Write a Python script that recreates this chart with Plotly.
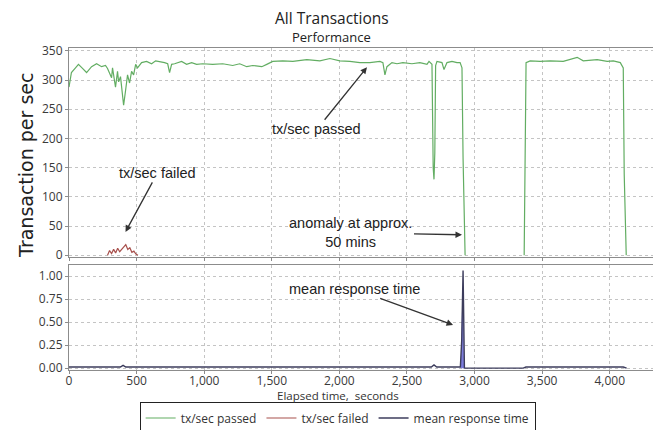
import plotly.graph_objects as go

# ---- data ----
passed_x = [0, 18, 48, 70, 100, 130, 167, 204, 241, 270, 285, 300, 315, 322, 344, 359, 367, 381,
            404, 419, 433, 448, 463, 478, 493, 507, 537, 574, 611, 641, 670, 707, 730, 744, 759,
            781, 833, 870, 907, 944, 989, 1063, 1137, 1211, 1263, 1315, 1359, 1426, 1463, 1507,
            1581, 1656, 1759, 1856, 1930, 2004, 2078, 2152, 2226, 2300, 2322, 2337, 2352, 2389,
            2426, 2470, 2537, 2596, 2648, 2663, 2685, 2690, 2694, 2700, 2706, 2712, 2722, 2759,
            2774, 2796, 2833, 2870, 2893, 2907, 2915, 2930, 3100, 3367, 3381, 3411, 3485,
            3559, 3656, 3759, 3804, 3907, 3981, 4026, 4078, 4100, 4107, 4122]
passed_y = [288, 313, 321, 327, 320, 313, 323, 328, 323, 325, 320, 313, 304, 321, 288, 315, 297, 306,
            257, 283, 309, 295, 315, 309, 327, 321, 330, 332, 328, 333, 332, 330, 328, 313, 327,
            328, 332, 327, 330, 327, 328, 327, 328, 325, 328, 323, 325, 323, 327, 332,
            333, 332, 335, 333, 337, 333, 332, 330, 330, 332, 330, 309, 323, 330,
            328, 330, 328, 330, 327, 332, 327, 180, 150, 130, 175, 325, 332, 330,
            318, 330, 332, 330, 330, 321, 167, 0, None, 0, 330, 333, 332,
            333, 332, 339, 333, 335, 332, 333, 330, 321, 139, 0]

failed_x = [285, 300, 315, 330, 345, 360, 375, 390, 405, 420, 435, 450, 465, 480, 495, 510]
failed_y = [0, 8, 3, 10, 4, 12, 6, 10, 14, 18, 10, 13, 5, 7, 2, 0]

resp_x = [0, 200, 380, 400, 420, 1000, 2000, 2680, 2700, 2720, 2895, 2905, 2915, 2925,
          3360, 3380, 4100, 4125]
resp_y = [0.012, 0.012, 0.012, 0.03, 0.012, 0.012, 0.012, 0.012, 0.035, 0.012, 0.012, 0.3,
          1.06, 0.0, 0.0, 0.012, 0.012, 0.0]

band_x = [2898, 2902, 2906, 2910, 2918, 2922]
band_y = [0, 0.25, 0.25, 0.81, 0.81, 0]

x_ticks = [0, 500, 1000, 1500, 2000, 2500, 3000, 3500, 4000]
top_ticks = [0, 50, 100, 150, 200, 250, 300, 350]
bottom_ticks = [0, 0.25, 0.5, 0.75, 1.0]

GREEN = "#62ad62"
RED = "#a8504c"
NAVY = "#3c3c5c"
FONT = "Open Sans"
ARIAL = "Liberation Sans"

fig = go.Figure()
fig.add_trace(go.Scatter(x=passed_x, y=passed_y, mode="lines", name="tx/sec passed",
                         line=dict(color=GREEN, width=1.2), xaxis="x", yaxis="y",
                         connectgaps=False))
fig.add_trace(go.Scatter(x=failed_x, y=failed_y, mode="lines", name="tx/sec failed",
                         line=dict(color=RED, width=1.2), xaxis="x", yaxis="y"))
fig.add_trace(go.Scatter(x=band_x, y=band_y, mode="lines", fill="tozeroy", showlegend=False,
                         fillcolor="rgba(100,100,215,0.85)", line=dict(width=0),
                         xaxis="x2", yaxis="y2", hoverinfo="skip"))
fig.add_trace(go.Scatter(x=resp_x, y=resp_y, mode="lines", name="mean response time",
                         line=dict(color=NAVY, width=1.4), xaxis="x2", yaxis="y2"))

axis_common = dict(showline=True, linecolor="#8c8c8c", linewidth=1, mirror=True,
                   showgrid=True, gridcolor="#c4c4c4", griddash="dot", gridwidth=1,
                   zeroline=False, ticks="outside", ticklen=3, tickcolor="#8c8c8c",
                   tickfont=dict(family=FONT, size=12, color="#3a3a3a"))

# the page body keeps its default 8px margin, so the figure is 8px smaller
fig.update_layout(
    width=653, height=422,
    margin=dict(l=61, r=8, t=40, b=60, autoexpand=False),
    paper_bgcolor="white", plot_bgcolor="white",
    xaxis=dict(domain=[0, 1], anchor="y", range=[0, 4320], tickvals=x_ticks,
               showticklabels=False, **axis_common),
    yaxis=dict(domain=[0.351, 1], anchor="x", range=[-3, 355], tickvals=top_ticks,
               **axis_common),
    xaxis2=dict(domain=[0, 1], anchor="y2", range=[0, 4320], tickvals=x_ticks,
                tickformat=",", ticklabelstandoff=-3, **axis_common),
    yaxis2=dict(domain=[0, 0.326], anchor="x2", range=[-0.02, 1.12], tickvals=bottom_ticks,
                tickformat=".2f", **axis_common),
    showlegend=True,
    legend=dict(orientation="h", x=0.46, xanchor="center", y=-0.149, yanchor="middle",
                bordercolor="#222222", borderwidth=1, bgcolor="white",
                font=dict(family=FONT, size=12, color="#333333"),
                itemwidth=30, tracegroupgap=0),
)

annotations = [
    dict(text="All Transactions", x=0.4496, y=1.093, xref="paper", yref="paper",
         showarrow=False, font=dict(family=FONT, size=15.5, color="#222222"),
         xanchor="center", yanchor="middle"),
    dict(text="Performance", x=0.4496, y=1.034, xref="paper", yref="paper",
         showarrow=False, font=dict(family=FONT, size=13, color="#222222"),
         xanchor="center", yanchor="middle"),
    dict(text="Transaction per sec", x=-0.0735, y=0.634, xref="paper", yref="paper",
         showarrow=False, textangle=-90, font=dict(family="DejaVu Sans", size=19, color="#222222"),
         xanchor="center", yanchor="middle"),
    dict(text="Elapsed time,  seconds", x=0.46, y=-0.0807, xref="paper", yref="paper",
         showarrow=False, font=dict(family=FONT, size=11.5, color="#333333"),
         xanchor="center", yanchor="middle"),
    dict(text="tx/sec passed", x=2204, y=322, xref="x", yref="y", ax=-50, ay=62,
         showarrow=True, arrowhead=2, arrowsize=1, arrowwidth=1.3, arrowcolor="#333333",
         font=dict(family=ARIAL, size=14.5, color="#222222")),
    dict(text="tx/sec failed", x=418, y=40, xref="x", yref="y", ax=32, ay=-59,
         showarrow=True, arrowhead=2, arrowsize=1, arrowwidth=1.3, arrowcolor="#333333",
         font=dict(family=ARIAL, size=14.5, color="#222222")),
    dict(text="anomaly at approx.<br>50 mins", x=2907, y=35, xref="x", yref="y", ax=-111, ay=-2,
         showarrow=True, arrowhead=2, arrowsize=1, arrowwidth=1.3, arrowcolor="#333333",
         font=dict(family=ARIAL, size=14.5, color="#222222")),
    dict(text="mean response time", x=2841, y=0.47, xref="x2", yref="y2", ax=-99, ay=-36,
         showarrow=True, arrowhead=2, arrowsize=1, arrowwidth=1.3, arrowcolor="#333333",
         font=dict(family=ARIAL, size=14.5, color="#222222")),
]
fig.update_layout(annotations=annotations)

fig.write_html("out.html", config={"displayModeBar": False})
